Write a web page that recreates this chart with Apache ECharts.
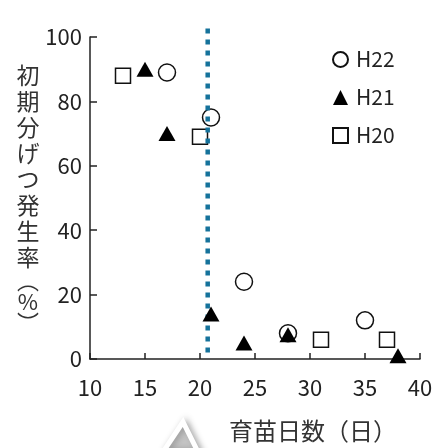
<!DOCTYPE html>
<html><head><meta charset="utf-8">
<script src="https://cdn.jsdelivr.net/npm/echarts@6/dist/echarts.min.js"></script>
<style>html,body{margin:0;padding:0;background:#fff;overflow:hidden}#c{width:436px;height:448px}</style>
</head><body><div id="c"></div>
<script>
const seriesNames = ['H22', 'H21', 'H20'];
const h22 = [[17, 89], [21, 75], [24, 24], [28, 8], [35, 12]];
const h21 = [[15, 90], [17, 70], [21, 14], [24, 5], [28, 7.5], [38, 1]];
const h20 = [[13, 88], [20, 69], [31, 6], [37, 6]];
const thresholdX = 20.7;
const thresholdYRange = [2, 103];
const xTicks = [10, 15, 20, 25, 30, 35, 40];
const yTicks = [0, 20, 40, 60, 80, 100];

const font = '"Noto Sans CJK JP", "Noto Sans", sans-serif';
const chart = echarts.init(document.getElementById('c'));
const openMarker = { color: '#fff', borderColor: '#111', borderWidth: 1.5, opacity: 1 };
chart.setOption({
  animation: false,
  textStyle: { fontFamily: font },
  grid: { left: 90, right: 16, top: 37, bottom: 79, containLabel: false },
  legend: {
    orient: 'vertical', left: 327, top: 44, itemGap: 17,
    itemWidth: 15, itemHeight: 15,
    data: seriesNames,
    textStyle: { fontSize: 21, color: '#222', fontFamily: font, padding: [0, 0, 0, 3] }
  },
  xAxis: {
    type: 'value', min: xTicks[0], max: xTicks[xTicks.length - 1], interval: 5,
    axisLine: { lineStyle: { color: '#222', width: 1.5 } },
    axisTick: { inside: true, length: 6, lineStyle: { color: '#222', width: 1.5 } },
    axisLabel: { fontSize: 22, color: '#222', margin: 18 },
    splitLine: { show: false },
    name: '育苗日数（日）', nameLocation: 'middle', nameGap: 60,
    nameTextStyle: { fontSize: 24, color: '#333', padding: [0, 0, 0, 116] }
  },
  yAxis: {
    type: 'value', min: yTicks[0], max: yTicks[yTicks.length - 1], interval: 20,
    axisLine: { show: true, lineStyle: { color: '#222', width: 1.5 } },
    axisTick: { show: true, inside: true, length: 7, lineStyle: { color: '#222', width: 1.5 } },
    axisLabel: { fontSize: 22, color: '#222', margin: 8 },
    splitLine: { show: false },
    name: '初\n期\n分\nげ\nつ\n発\n生\n率\n{p|︵}\n{p|%}\n{p|︶}',
    nameLocation: 'middle', nameRotate: 0, nameGap: 55,
    nameTextStyle: {
      fontSize: 23, color: '#333', lineHeight: 26, align: 'center',
      rich: { p: { fontSize: 22, lineHeight: 21, color: '#333' } }
    }
  },
  series: [
    {
      name: 'threshold', type: 'line', clip: false, symbol: 'none', silent: true,
      data: thresholdYRange.map(y => [thresholdX, y]),
      lineStyle: { color: '#15729b', width: 4.5, type: [5, 6], cap: 'butt', opacity: 1 },
      z: 3
    },
    { name: 'H20', type: 'scatter', symbol: 'rect', symbolSize: 15, data: h20, itemStyle: openMarker, z: 2 },
    { name: 'H22', type: 'scatter', symbol: 'circle', symbolSize: 17, data: h22, itemStyle: openMarker, z: 2 },
    { name: 'H21', type: 'scatter', symbol: 'triangle', symbolSize: [17, 15], data: h21,
      itemStyle: { color: '#000', borderWidth: 0, opacity: 1 }, z: 4 }
  ],
  graphic: [{
    type: 'polygon', z: -1,
    shape: { points: [[183, 422], [163, 452], [198, 452]] },
    style: { fill: '#c4c4c4', stroke: '#fff', lineWidth: 5, shadowBlur: 6, shadowColor: 'rgba(0,0,0,0.25)', shadowOffsetX: 3 }
  }]
});
</script></body></html>
